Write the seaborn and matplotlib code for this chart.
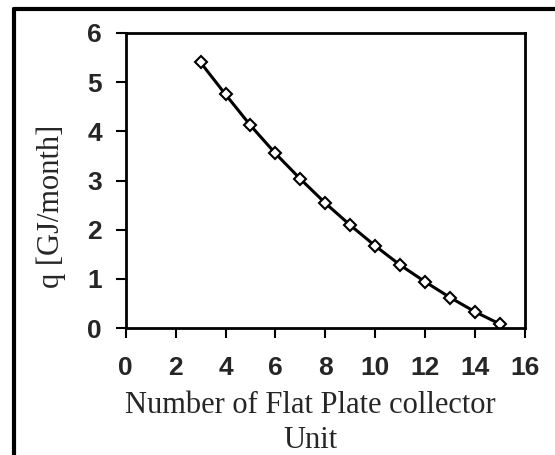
import matplotlib
matplotlib.use('Agg')
import matplotlib.pyplot as plt
from matplotlib.lines import Line2D
import pandas as pd
import seaborn as sns

# number of collector units vs. monthly heat
units = [3, 4, 5, 6, 7, 8, 9, 10, 11, 12, 13, 14, 15]
q_gj = [5.40, 4.75, 4.12, 3.55, 3.03, 2.54, 2.09, 1.67, 1.28, 0.94, 0.62, 0.33, 0.08]

df = pd.DataFrame({'units': units, 'q': q_gj})

sns.set_style('ticks')
plt.rcParams['font.family'] = ['Liberation Sans', 'DejaVu Sans']

fig = plt.figure(figsize=(5.55, 4.55), dpi=100)
ax = fig.add_axes([0.2265, 0.279, 0.7195, 0.6485])

sns.lineplot(data=df, x='units', y='q', ax=ax, color='black', linewidth=2.2,
             marker='D', markersize=6, markerfacecolor='white',
             markeredgecolor='black', markeredgewidth=1.5)

ax.set_xlim(0, 16)
ax.set_ylim(0, 6)
ax.set_xticks(range(0, 17, 2))
ax.set_yticks(range(0, 7))

for s in ax.spines.values():
    s.set_visible(True)
    s.set_linewidth(2.0)
    s.set_color('black')

ax.tick_params(direction='out', length=7, width=1.5, color='black', labelsize=19)
ax.tick_params(axis='x', pad=13)
ax.tick_params(axis='y', pad=10)
for lab in ax.get_xticklabels() + ax.get_yticklabels():
    lab.set_fontweight('bold')

ax.set_xlabel('Number of Flat Plate collector\nUnit', family='Liberation Serif',
              fontsize=22, linespacing=1.25)
ax.set_ylabel('q [GJ/month]', family='Liberation Serif', fontsize=22)
ax.xaxis.set_label_coords(0.4615, -0.215)
ax.yaxis.set_label_coords(-0.15, 0.413)

# outer frame (left and top visible in the source)
fig.add_artist(Line2D([14 / 555, 14 / 555], [0, 1 - 9 / 455], transform=fig.transFigure,
                      color='black', linewidth=3))
fig.add_artist(Line2D([14 / 555, 1], [1 - 9 / 455, 1 - 9 / 455], transform=fig.transFigure,
                      color='black', linewidth=3))

fig.savefig('out.png', dpi=100)
